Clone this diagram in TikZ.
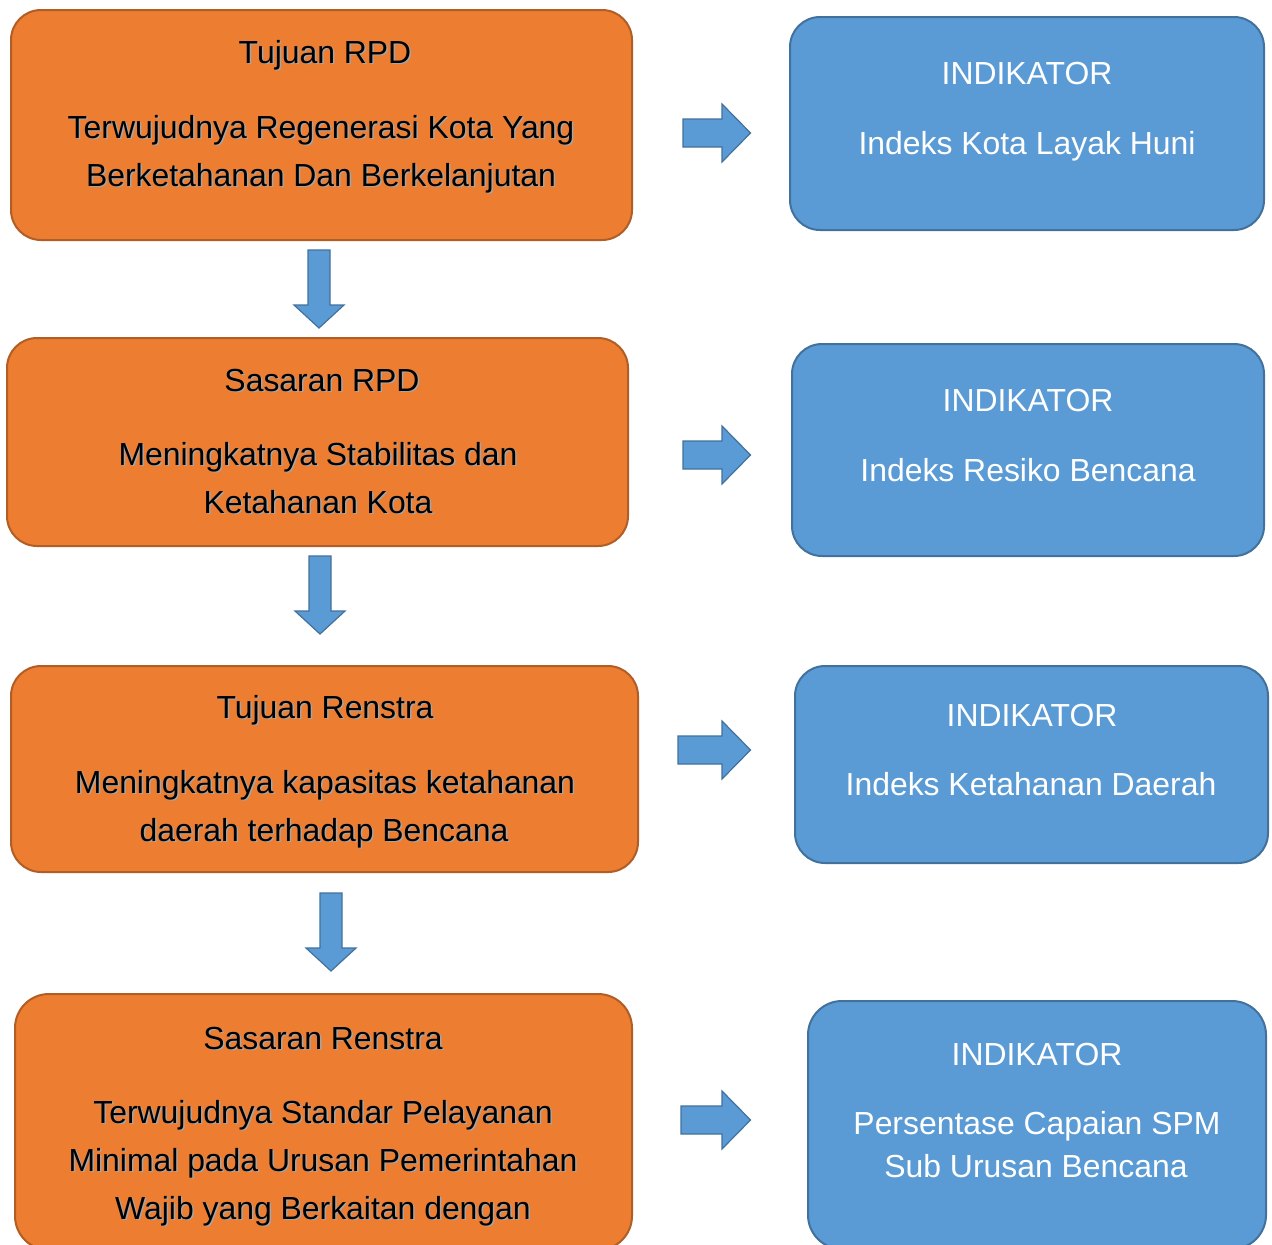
\documentclass[tikz,border=0pt]{standalone}
\usepackage{fontspec}
\setmainfont{Liberation Sans}
\definecolor{org}{HTML}{ED7D31}
\definecolor{orgline}{HTML}{B05E25}
\definecolor{blu}{HTML}{5B9BD5}
\definecolor{bluline}{HTML}{41719C}
\begin{document}
\begin{tikzpicture}[x=1pt,y=-1pt,
  obox/.style={draw=orgline,fill=org,line width=2pt,rounded corners=30pt},
  bbox/.style={draw=bluline,fill=blu,line width=2pt,rounded corners=30pt},
  otxt/.style={anchor=base,inner sep=0pt,font=\fontsize{31.9}{40}\selectfont,text=black},
  oshd/.style={anchor=base,inner sep=0pt,font=\fontsize{31.9}{40}\selectfont,text=black!35},
  btxt/.style={anchor=base,inner sep=0pt,font=\fontsize{31.9}{40}\selectfont,text=white},
  barrow/.style={draw=bluline,fill=blu,line width=1.2pt,line join=miter},
  pics/rarr/.style={code={\draw[barrow] (-#1,-14) -- (0,-14) -- (0,-29) -- (28.5,0) -- (0,29) -- (0,14) -- (-#1,14) -- cycle;}},
  pics/darr/.style={code={\draw[barrow] (-11,0) -- (11,0) -- (11,55) -- (25,55) -- (0,78) -- (-25,55) -- (-11,55) -- cycle;}}
]
\clip (0,0) rectangle (1272,1245);
\fill[white] (0,0) rectangle (1272,1245);
\newcommand{\otext}[4]{\node[oshd] at (#2+1.5,#3+1.5) {#4};\node[otxt] (#1) at (#2,#3) {#4};}

% orange boxes
\draw[obox] (11,10) rectangle (632,240);
\draw[obox] (7,338) rectangle (628,546);
\draw[obox] (11,666) rectangle (638,872);
\draw[obox,rounded corners=34pt] (15,994) rectangle (632,1250);

% blue boxes
\draw[bbox] (790,17) rectangle (1264,230);
\draw[bbox] (792,344) rectangle (1264,556);
\draw[bbox] (795,666) rectangle (1268,863);
\draw[bbox,rounded corners=34pt] (808,1001) rectangle (1266,1249);

% orange texts
\otext{t1a}{325}{63}{Tujuan RPD}
\otext{t1b}{321}{138}{Terwujudnya Regenerasi Kota Yang}
\otext{t1c}{321}{186}{Berketahanan Dan Berkelanjutan}
\otext{t2a}{322}{391}{Sasaran RPD}
\otext{t2b}{318}{465}{Meningkatnya Stabilitas dan}
\otext{t2c}{318}{513}{Ketahanan Kota}
\otext{t3a}{325}{718}{Tujuan Renstra}
\otext{t3b}{325}{793}{Meningkatnya kapasitas ketahanan}
\otext{t3c}{324}{841}{daerah terhadap Bencana}
\otext{t4a}{323}{1049}{Sasaran Renstra}
\otext{t4b}{323}{1123}{Terwujudnya Standar Pelayanan}
\otext{t4c}{323}{1171}{Minimal pada Urusan Pemerintahan}
\otext{t4d}{323}{1219}{Wajib yang Berkaitan dengan}

% blue texts
\node[btxt] (i1a) at (1027,84) {INDIKATOR};
\node[btxt] (i1b) at (1027,154) {Indeks Kota Layak Huni};
\node[btxt] (i2a) at (1028,411) {INDIKATOR};
\node[btxt] (i2b) at (1028,481) {Indeks Resiko Bencana};
\node[btxt] (i3a) at (1032,726) {INDIKATOR};
\node[btxt] (i3b) at (1031,795) {Indeks Ketahanan Daerah};
\node[btxt] (i4a) at (1037,1065) {INDIKATOR};
\node[btxt] (i4b) at (1037,1134) {Persentase Capaian SPM};
\node[btxt] (i4c) at (1036,1177) {Sub Urusan Bencana};

% right arrows
\pic at (722,133) {rarr=39};
\pic at (722,455) {rarr=39};
\pic at (722,750) {rarr=44};
\pic at (722,1120) {rarr=41};

% down arrows
\pic at (319,250) {darr};
\pic at (320,556) {darr};
\pic at (331,893) {darr};
\end{tikzpicture}
\end{document}
